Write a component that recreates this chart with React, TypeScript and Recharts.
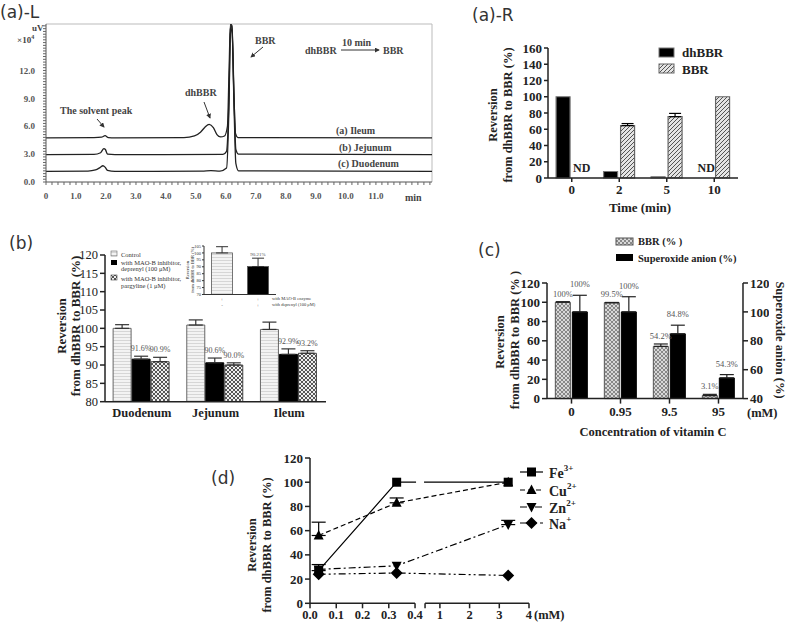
import React from 'react';
import {
  LineChart, Line, BarChart, Bar, XAxis, YAxis, ErrorBar, LabelList, ReferenceLine, ReferenceDot,
} from 'recharts';

const SERIF = "'Liberation Serif', 'Times New Roman', serif";
const SANS = "'DejaVu Sans', sans-serif";

// (a)-L chromatograms: retention time (min) and signal (uV x10^4)
const ileumT = [0, 1.6, 1.85, 1.97, 2.08, 2.3, 4.6, 4.95, 5.15, 5.3, 5.44, 5.58, 5.7, 5.82, 5.95, 6.05, 6.1, 6.15, 6.2, 6.26, 6.32, 6.4, 12.87];
const ileumV = [4.75, 4.78, 4.82, 4.98, 4.78, 4.75, 4.77, 4.95, 5.35, 5.9, 6.2, 5.85, 5.1, 4.85, 4.95, 6.0, 11.5, 17, 16.8, 10, 5.2, 4.78, 4.75];
const jejT = [0, 1.6, 1.82, 1.93, 1.98, 2.05, 2.3, 5.9, 6.02, 6.1, 6.15, 6.2, 6.27, 6.33, 6.42, 12.87];
const jejV = [2.95, 2.97, 3.15, 3.6, 3.5, 3.0, 2.95, 2.97, 3.3, 9, 16.5, 16.8, 9, 3.5, 3.0, 2.95];
const duoT = [0, 1.4, 1.65, 1.8, 1.9, 1.97, 2.05, 2.3, 5.2, 5.5, 5.8, 6.02, 6.1, 6.15, 6.2, 6.27, 6.33, 6.42, 12.87];
const duoV = [1.15, 1.18, 1.3, 1.55, 1.75, 1.6, 1.25, 1.15, 1.17, 1.22, 1.17, 1.5, 8, 16, 16.5, 8, 2.0, 1.2, 1.15];

// (a)-R reversion over time
const timeCats = ['0', '2', '5', '10'];
const dhBBR = [100, 8, 1.5, 0];
const bbrRev = [0, 64.5, 75.5, 100];
const bbrErr = [0, 2.5, 4, 0];

// (b) intestinal segments
const segments = ['Duodenum', 'Jejunum', 'Ileum'];
const ctrl = [100, 100.9, 99.7];
const ctrlErr = [1.0, 1.4, 2.0];
const deprenyl = [91.6, 90.6, 92.9];
const depErr = [0.8, 1.3, 1.5];
const pargyline = [90.9, 90.0, 93.2];
const parErr = [1.2, 0.6, 0.7];
const parLabels = ['90.9%', '90.0%', '93.2%'];

// (b) inset
const insetCats = ['ctrl', 'dep'];
const insetVals = [100, 90.21];
const insetErr = [4.5, 6];
const enzymeRow = ['+', '+'];
const depRow = ['-', '+'];

// (c) vitamin C
const vitC = ['0', '0.95', '9.5', '95'];
const bbrVC = [100, 99.5, 54.2, 3.1];
const bbrVCErr = [0.6, 0.3, 2.5, 1.3];
const superoxide = [100, 100, 84.8, 54.3];
const supErr = [11.5, 10.5, 6, 2.3];

// (d) metal ions
const ionX = [0.033, 0.33, 3.3];
const fe = [27, 100, 100];
const feErr = [5, 0, 0];
const cu = [56, 83, 100];
const cuErr = [11, 4, 0];
const zn = [28, 31, 65];
const znErr = [0, 0, 3.5];
const na = [24, 25, 23];
const dTicks = [0, 0.1, 0.2, 0.3, 0.4, 0.5, 1, 2, 3, 4];
const dTickLabels = ['0.0', '0.1', '0.2', '0.3', '0.4', '', '1', '2', '3', '4'];

// broken x axis of (d): 0-0.4 linear, then 0.5-4 compressed
const bx = (x: number) => (x <= 0.45 ? x : 0.4381 + (x - 0.5) * 0.1131);

const minorX = Array.from({ length: 65 }, (_, i) => +(i * 0.2).toFixed(1));
const minorY = Array.from({ length: 57 }, (_, i) => +(i * 0.3).toFixed(1));

function frame(x0: number, y0: number, x1: number, y1: number, l: number, t: number, r: number, b: number, rightAxis = false) {
  return {
    style: { position: 'absolute' as const, left: x0 - l, top: y0 - t },
    width: x1 - x0 + l + r,
    height: y1 - y0 + t + b,
    margin: { top: t, right: rightAxis ? 0 : r, bottom: 0, left: 0 },
    yw: l, xh: b, rw: r,
  };
}

const tk = (fs: number, bold = true, fill = '#222') => ({ fontSize: fs, fontWeight: bold ? 'bold' : 'normal', fill, fontFamily: SERIF });
const ax = { stroke: '#222', strokeWidth: 1.5 };
const nz = (e: number) => (e ? [0, e] : null);

const pctLabel = (errs: number[], ppu: number, fs: number, off: number, texts?: string[]) => (p: any) => (
  <text x={p.x + p.width / 2} y={p.y - (errs[p.index] || 0) * ppu - off} textAnchor="middle"
    fontSize={fs} fill="#555" fontFamily={SERIF}>{texts ? texts[p.index] : `${p.value}%`}</text>
);

const ndLabel = (dx: number) => (p: any) => (
  <text x={p.viewBox.x + dx} y={p.viewBox.y - 10} textAnchor="middle" dominantBaseline="central"
    fontSize={12} fontWeight="bold" fill="#222" fontFamily={SERIF}>ND</text>
);

const squareDot = (p: any) => <rect key={`s${p.index}`} x={p.cx - 4.5} y={p.cy - 4.5} width={9} height={9} fill="#000" />;
const upDot = (p: any) => <path key={`u${p.index}`} d={`M${p.cx},${p.cy - 5.5}L${p.cx + 5},${p.cy + 4}L${p.cx - 5},${p.cy + 4}Z`} fill="#000" />;
const downDot = (p: any) => <path key={`d${p.index}`} d={`M${p.cx},${p.cy + 5.5}L${p.cx + 5},${p.cy - 4}L${p.cx - 5},${p.cy - 4}Z`} fill="#000" />;
const diamondDot = (p: any) => <path key={`m${p.index}`} d={`M${p.cx},${p.cy - 6}L${p.cx + 6},${p.cy}L${p.cx},${p.cy + 6}L${p.cx - 6},${p.cy}Z`} fill="#000" />;

function PatternDefs() {
  return (
    <svg width={0} height={0} style={{ position: 'absolute' }}>
      <defs>
        <pattern id="hatch" width={4} height={4} patternUnits="userSpaceOnUse">
          <rect width={4} height={4} fill="#e4e4e4" />
          <path d="M-1,1 l2,-2 M0,4 l4,-4 M3,5 l2,-2" stroke="#444" strokeWidth={0.9} />
        </pattern>
        <pattern id="lightLines" width={3} height={3} patternUnits="userSpaceOnUse">
          <rect width={3} height={3} fill="#f3f3f3" />
          <rect width={3} height={1} fill="#d6d6d6" />
        </pattern>
        <pattern id="checkDark" width={4} height={4} patternUnits="userSpaceOnUse">
          <rect width={4} height={4} fill="#f0f0f0" />
          <rect width={2} height={2} fill="#555" />
          <rect x={2} y={2} width={2} height={2} fill="#555" />
        </pattern>
        <pattern id="checkLight" width={4} height={4} patternUnits="userSpaceOnUse">
          <rect width={4} height={4} fill="#d8d8d8" />
          <rect width={2} height={2} fill="#888" />
          <rect x={2} y={2} width={2} height={2} fill="#888" />
        </pattern>
        <marker id="arr" viewBox="0 0 6 6" refX={5} refY={3} markerWidth={5} markerHeight={5} orient="auto">
          <path d="M0,0 L6,3 L0,6 z" fill="#333" />
        </marker>
      </defs>
    </svg>
  );
}

function PanelAL() {
  const f = frame(46, 24, 432, 182, 46, 24, 4, 30);
  const traces = [
    ileumT.map((t, i) => ({ t, v: ileumV[i] })),
    jejT.map((t, i) => ({ t, v: jejV[i] })),
    duoT.map((t, i) => ({ t, v: duoV[i] })),
  ];
  return (
    <div style={f.style}>
      <LineChart width={f.width} height={f.height} margin={f.margin}>
        <XAxis type="number" dataKey="t" domain={[0, 12.87]} ticks={minorX} interval={0} height={f.xh}
          tickFormatter={(v: number) => (Number.isInteger(v) && v <= 11 ? (v === 0 ? '0' : v.toFixed(1)) : '')}
          tickSize={3} tickMargin={8} tick={tk(9, true, '#555')} axisLine={{ stroke: '#555' }} tickLine={{ stroke: '#666' }} allowDataOverflow />
        <YAxis type="number" domain={[0, 17]} ticks={minorY} interval={0} width={f.yw}
          tickFormatter={(v: number) => (Math.round(v * 10) % 30 === 0 && v <= 12 ? v.toFixed(1) : '')}
          tickSize={3} tickMargin={8} tick={tk(9, true, '#555')} axisLine={{ stroke: '#555' }} tickLine={{ stroke: '#666' }} allowDataOverflow />
        <ReferenceLine y={17} stroke="#bbb" />
        <ReferenceLine x={12.87} stroke="#bbb" />
        {traces.map((d, i) => (
          <Line key={i} data={d} dataKey="v" type="monotone" stroke="#222" strokeWidth={1.3} dot={false} isAnimationActive={false} />
        ))}
      </LineChart>
    </div>
  );
}

function PanelAR() {
  const f = frame(548, 48, 738, 178, 40, 8, 10, 22);
  const rows = timeCats.map((c, i) => ({ c, dh: dhBBR[i], bbr: bbrRev[i], bbrE: nz(bbrErr[i]) }));
  return (
    <div style={f.style}>
      <BarChart width={f.width} height={f.height} margin={f.margin} data={rows} barCategoryGap="17%" barGap={3}>
        <XAxis dataKey="c" height={f.xh} tickSize={4} tickMargin={3} tick={tk(13)} axisLine={ax} tickLine={ax} interval={0} />
        <YAxis width={f.yw} domain={[0, 160]} ticks={[0, 20, 40, 60, 80, 100, 120, 140, 160]} interval={0} tickSize={4}
          tick={tk(13)} axisLine={ax} tickLine={ax} />
        <Bar dataKey="dh" fill="#000" stroke="#777" strokeWidth={1.2} isAnimationActive={false} />
        <Bar dataKey="bbr" fill="url(#hatch)" stroke="#666" strokeWidth={1.2} isAnimationActive={false}>
          <ErrorBar dataKey="bbrE" width={6} stroke="#000" strokeWidth={1.2} direction="y" />
        </Bar>
        {/* not detected: series value is zero */}
        {timeCats.map((c, i) => (dhBBR[i] === 0 ? (
          <ReferenceDot key={`nd-dh-${c}`} x={c} y={0} r={0.01} fill="none" stroke="none" label={ndLabel(-8)} />
        ) : null))}
        {timeCats.map((c, i) => (bbrRev[i] === 0 ? (
          <ReferenceDot key={`nd-bbr-${c}`} x={c} y={0} r={0.01} fill="none" stroke="none" label={ndLabel(10)} />
        ) : null))}
      </BarChart>
    </div>
  );
}

function PanelB() {
  const f = frame(105, 255, 326, 401.7, 30, 8, 4, 20);
  const rows = segments.map((s, i) => ({
    s, ctrl: ctrl[i], ctrlE: [0, ctrlErr[i]], dep: deprenyl[i], depE: [0, depErr[i]], par: pargyline[i], parE: [0, parErr[i]],
  }));
  const ppu = 146.7 / 40;
  return (
    <div style={f.style}>
      <BarChart width={f.width} height={f.height} margin={f.margin} data={rows} barCategoryGap="11%" barGap={1}>
        <XAxis dataKey="s" height={f.xh} tickSize={4} tickMargin={2} tick={tk(12.5)} axisLine={ax} tickLine={false} interval={0} />
        <YAxis width={f.yw} domain={[80, 120]} ticks={[80, 85, 90, 95, 100, 105, 110, 115, 120]} interval={0} tickSize={5}
          tick={tk(12.5, false)} axisLine={ax} tickLine={ax} allowDataOverflow />
        <Bar dataKey="ctrl" fill="url(#lightLines)" stroke="#666" strokeWidth={1} isAnimationActive={false}>
          <ErrorBar dataKey="ctrlE" width={7} stroke="#333" strokeWidth={1.2} direction="y" />
        </Bar>
        <Bar dataKey="dep" fill="#000" stroke="#000" isAnimationActive={false}>
          <ErrorBar dataKey="depE" width={7} stroke="#333" strokeWidth={1.2} direction="y" />
          <LabelList dataKey="dep" content={pctLabel(depErr, ppu, 8, 5)} />
        </Bar>
        <Bar dataKey="par" fill="url(#checkDark)" stroke="#444" strokeWidth={1} isAnimationActive={false}>
          <ErrorBar dataKey="parE" width={7} stroke="#333" strokeWidth={1.2} direction="y" />
          <LabelList dataKey="par" content={pctLabel(parErr, ppu, 8, 5, parLabels)} />
        </Bar>
      </BarChart>
    </div>
  );
}

function InsetTick(p: any) {
  const i = insetCats.indexOf(p.payload.value);
  return (
    <g fontFamily={SERIF} fontSize={5} fill="#333">
      <text x={p.x} y={p.y + 4} textAnchor="middle">{enzymeRow[i]}</text>
      <text x={p.x} y={p.y + 10} textAnchor="middle">{depRow[i]}</text>
    </g>
  );
}

function PanelBInset() {
  const f = frame(204, 246, 276, 294.5, 14, 4, 2, 14);
  const rows = insetCats.map((c, i) => ({ c, v: insetVals[i], e: [0, insetErr[i]] }));
  return (
    <div style={f.style}>
      <BarChart width={f.width} height={f.height} margin={f.margin} data={rows} barCategoryGap="21%">
        <XAxis dataKey="c" height={f.xh} tick={InsetTick} tickSize={0} axisLine={{ stroke: '#333' }} tickLine={false} interval={0} />
        <YAxis width={f.yw} domain={[70, 105]} ticks={[70, 75, 80, 85, 90, 95, 100, 105]} interval={0} tickSize={2} tickMargin={1}
          tick={tk(4.5, false, '#333')} axisLine={{ stroke: '#333' }} tickLine={{ stroke: '#333' }} allowDataOverflow />
        <Bar dataKey="v" stroke="#555" strokeWidth={0.8} isAnimationActive={false}
          shape={(p: any) => (
            <rect x={p.x} y={p.y} width={p.width} height={p.height}
              fill={p.index === 0 ? 'url(#lightLines)' : '#000'} stroke="#555" strokeWidth={0.8} />
          )}>
          <ErrorBar dataKey="e" width={6} stroke="#333" strokeWidth={1} direction="y" />
          <LabelList dataKey="v" content={(p: any) => (p.index === 1 ? pctLabel(insetErr, 48.5 / 35, 5, 2)(p) : null)} />
        </Bar>
      </BarChart>
    </div>
  );
}

function PanelC() {
  const f = frame(547, 282.7, 743, 398.3, 26, 8, 26, 22, true);
  const rows = vitC.map((c, i) => ({ c, bbr: bbrVC[i], bbrE: [0, bbrVCErr[i]], sup: superoxide[i], supE: [0, supErr[i]] }));
  return (
    <div style={f.style}>
      <BarChart width={f.width} height={f.height} margin={f.margin} data={rows} barCategoryGap="17%" barGap={2}>
        <XAxis dataKey="c" height={f.xh} tickSize={5} tickMargin={3} tick={tk(13)} axisLine={ax} tickLine={ax} interval={0} />
        <YAxis yAxisId="l" width={f.yw} domain={[0, 120]} ticks={[0, 20, 40, 60, 80, 100, 120]} interval={0} tickSize={5}
          tick={tk(13)} axisLine={ax} tickLine={ax} />
        <YAxis yAxisId="r" orientation="right" width={f.rw} domain={[40, 120]} ticks={[40, 60, 80, 100, 120]} interval={0} tickSize={5}
          tick={tk(13)} axisLine={ax} tickLine={ax} allowDataOverflow />
        <Bar yAxisId="l" dataKey="bbr" fill="url(#checkLight)" stroke="#555" strokeWidth={1} isAnimationActive={false}>
          <ErrorBar dataKey="bbrE" width={7} stroke="#222" strokeWidth={1.2} direction="y" />
          <LabelList dataKey="bbr" content={pctLabel(bbrVCErr, 115.6 / 120, 8.5, 5)} />
        </Bar>
        <Bar yAxisId="r" dataKey="sup" fill="#000" stroke="#000" isAnimationActive={false}>
          <ErrorBar dataKey="supE" width={7} stroke="#222" strokeWidth={1.2} direction="y" />
          <LabelList dataKey="sup" content={pctLabel(supErr, 115.6 / 80, 8.5, 8)} />
        </Bar>
      </BarChart>
    </div>
  );
}

const D_X0 = 310;
const D_X1 = 529;

function PanelD() {
  const f = frame(D_X0, 458, D_X1, 603.3, 32, 6, 8, 20);
  const rows = ionX.map((x, i) => ({
    x: bx(x), fe: fe[i], feE: nz(feErr[i]), cu: cu[i], cuE: nz(cuErr[i]), zn: zn[i], znE: nz(znErr[i]), na: na[i],
  }));
  const line = { type: 'linear' as const, stroke: '#000', strokeWidth: 1.2, isAnimationActive: false, activeDot: false };
  return (
    <div style={f.style}>
      <LineChart width={f.width} height={f.height} margin={f.margin} data={rows}>
        <XAxis type="number" dataKey="x" domain={[0, bx(4)]} ticks={dTicks.map(bx)} interval={0} height={f.xh}
          tickFormatter={(v: number, i: number) => dTickLabels[i]} tickSize={5} tickMargin={2} tick={tk(12.5)}
          axisLine={false} tickLine={ax} allowDataOverflow />
        <YAxis width={f.yw} domain={[0, 120]} ticks={[0, 20, 40, 60, 80, 100, 120]} interval={0} tickSize={5} tick={tk(13)}
          axisLine={ax} tickLine={ax} />
        <ReferenceLine segment={[{ x: 0, y: 0 }, { x: 0.4, y: 0 }]} stroke="#222" strokeWidth={1.5} ifOverflow="visible" />
        <ReferenceLine segment={[{ x: bx(0.5), y: 0 }, { x: bx(4), y: 0 }]} stroke="#222" strokeWidth={1.5} ifOverflow="visible" />
        <Line dataKey="na" {...line} strokeDasharray="7 3 2 3 2 3" dot={diamondDot} />
        <Line dataKey="zn" {...line} strokeDasharray="7 3 2 3" dot={downDot}>
          <ErrorBar dataKey="znE" width={7} stroke="#000" strokeWidth={1.2} direction="y" />
        </Line>
        <Line dataKey="cu" {...line} strokeDasharray="5 3" dot={upDot}>
          <ErrorBar dataKey="cuE" width={7} stroke="#000" strokeWidth={1.2} direction="y" />
        </Line>
        <Line dataKey="fe" {...line} dot={squareDot}>
          <ErrorBar dataKey="feE" width={7} stroke="#000" strokeWidth={1.2} direction="y" />
        </Line>
      </LineChart>
    </div>
  );
}

const ionNames = ['Fe', 'Cu', 'Zn', 'Na'];
const ionCharges = ['3+', '2+', '2+', '+'];

function Overlay() {
  const t = (x: number, y: number, s: string, fs: number, extra: any = {}) => (
    <text x={x} y={y} fontSize={fs} fontFamily={SERIF} fontWeight="bold" fill="#222" dominantBaseline="central" {...extra}>{s}</text>
  );
  const rot = (x: number, y: number, s: string, fs: number, deg = -90, extra: any = {}) => (
    <text x={x} y={y} fontSize={fs} fontFamily={SERIF} fontWeight="bold" fill="#222" textAnchor="middle"
      dominantBaseline="central" transform={`rotate(${deg} ${x} ${y})`} {...extra}>{s}</text>
  );
  const arrow = (x1: number, y1: number, x2: number, y2: number) => (
    <line x1={x1} y1={y1} x2={x2} y2={y2} stroke="#333" strokeWidth={1} markerEnd="url(#arr)" />
  );
  const panel = (x: number, y: number, s: string) => (
    <text x={x} y={y} fontSize={17} fontFamily={SANS} fill="#333" dominantBaseline="central">{s}</text>
  );
  const g = { fill: '#444' };
  const dashes = ['', '5 3', '7 3 2 3', '7 3 2 3 2 3'];
  const dots = [squareDot, upDot, downDot, diamondDot];
  const legY = [472, 490, 507, 523];
  // axis break of (d): hide the Fe line where the x axis is interrupted
  const dppx = (D_X1 - D_X0) / bx(4);
  const gapL = D_X0 + 0.4 * dppx + 1;
  const gapR = D_X0 + bx(0.5) * dppx - 1;
  return (
    <svg width={787} height={625} style={{ position: 'absolute', left: 0, top: 0, pointerEvents: 'none' }}>
      {panel(0, 12, '(a)-L')}
      {panel(472, 15, '(a)-R')}
      {panel(9, 243, '(b)')}
      {panel(478, 250, '(c)')}
      {panel(211, 478, '(d)')}

      {/* (a)-L annotations */}
      {t(32, 28, 'uV', 9, g)}
      <text x={17} y={40} fontSize={9} fontFamily={SERIF} fontWeight="bold" fill="#444" dominantBaseline="central">
        ×10<tspan fontSize={6} dy={-3}>4</tspan>
      </text>
      {t(255, 40, 'BBR', 10, g)}
      {arrow(263, 47, 251, 57)}
      {t(342, 42, '10 min', 10, g)}
      {t(305, 50, 'dhBBR', 10, g)}
      {arrow(341, 50, 379, 50)}
      {t(383, 50, 'BBR', 10, g)}
      {t(185, 92, 'dhBBR', 10, g)}
      {arrow(204, 102, 210, 118)}
      {t(60, 110, 'The solvent peak', 10, g)}
      {arrow(97, 119, 104, 127)}
      {t(336, 130, '(a) Ileum', 10, g)}
      {t(339, 147, '(b) Jejunum', 10, g)}
      {t(338, 163, '(c) Duodenum', 10, g)}
      {t(405, 197, 'min', 10, g)}

      {/* (a)-R */}
      <rect x={659} y={48} width={15} height={9} fill="#000" stroke="#777" />
      {t(682, 52, 'dhBBR', 13)}
      <rect x={659} y={64} width={15} height={9} fill="url(#hatch)" stroke="#666" />
      {t(682, 69, 'BBR', 13)}
      {rot(493, 115, 'Reversion', 12.5)}
      {rot(508, 115, 'from dhBBR to BBR (%)', 12.5)}
      {t(640, 207, 'Time (min)', 13, { textAnchor: 'middle' })}

      {/* (b) */}
      <rect x={111} y={251} width={6} height={5} fill="url(#lightLines)" stroke="#666" strokeWidth={0.6} />
      {t(121, 254, 'Control', 6.5, { fontWeight: 'normal', fill: '#333' })}
      <rect x={111} y={260} width={6} height={5} fill="#000" />
      {t(121, 262, 'with MAO-B inhibitor,', 6.5, { fontWeight: 'normal', fill: '#333' })}
      {t(121, 268.5, 'deprenyl (100 μM)', 6.5, { fontWeight: 'normal', fill: '#333' })}
      <rect x={111} y={275} width={6} height={5} fill="url(#checkDark)" stroke="#444" strokeWidth={0.6} />
      {t(121, 278, 'with MAO-B inhibitor,', 6.5, { fontWeight: 'normal', fill: '#333' })}
      {t(121, 285, 'pargyline (1 μM)', 6.5, { fontWeight: 'normal', fill: '#333' })}
      {rot(61, 326, 'Reversion', 13)}
      {rot(75, 326, 'from dhBBR to BBR (%)', 13)}
      {rot(187, 270, 'Reversion', 4.5, -90, { fontWeight: 'normal' })}
      {rot(192, 270, 'from dhBBR to BBR (%)', 4.5, -90, { fontWeight: 'normal' })}
      {t(272, 298, 'with MAO-B enzyme', 4.5, { fontWeight: 'normal', fill: '#333' })}
      {t(272, 304, 'with deprenyl (100 μM)', 4.5, { fontWeight: 'normal', fill: '#333' })}

      {/* (c) */}
      <rect x={616} y={238} width={17} height={7} fill="url(#checkLight)" stroke="#555" />
      {t(638, 241, 'BBR (% )', 10.5)}
      <rect x={616} y={254} width={17} height={7} fill="#000" />
      {t(638, 258, 'Superoxide anion (%)', 10.5)}
      {rot(500, 342, 'Reversion', 12.5)}
      {rot(515, 340, 'from dhBBR to BBR (% )', 12.5)}
      {rot(780, 340, 'Superoxide anion (%)', 12.5, 90)}
      {t(653, 432, 'Concentration of vitamin C', 12.5, { textAnchor: 'middle' })}
      {t(747, 413, '(mM)', 12.5)}

      {/* (d) */}
      <rect x={gapL} y={479} width={gapR - gapL} height={7} fill="#fff" />
      {rot(252, 545, 'Reversion', 12.5)}
      {rot(267, 545, 'from dhBBR to BBR (%)', 12.5)}
      {t(534, 615, '(mM)', 12.5)}
      {ionNames.map((n, i) => (
        <g key={n}>
          <line x1={520} y1={legY[i]} x2={543} y2={legY[i]} stroke="#000" strokeWidth={1.2} strokeDasharray={dashes[i] || undefined} />
          {dots[i]({ cx: 531.5, cy: legY[i], index: i })}
          <text x={549} y={legY[i] + 1} fontSize={14} fontFamily={SERIF} fontWeight="bold" fill="#222" dominantBaseline="central">
            {n}<tspan fontSize={9} dy={-5}>{ionCharges[i]}</tspan>
          </text>
        </g>
      ))}
    </svg>
  );
}

export default function App() {
  return (
    <div style={{ position: 'absolute', left: 0, top: 0, width: 787, height: 625, background: '#fff', fontFamily: SERIF }}>
      <PatternDefs />
      <PanelAL />
      <PanelAR />
      <PanelB />
      <PanelBInset />
      <PanelC />
      <PanelD />
      <Overlay />
    </div>
  );
}
